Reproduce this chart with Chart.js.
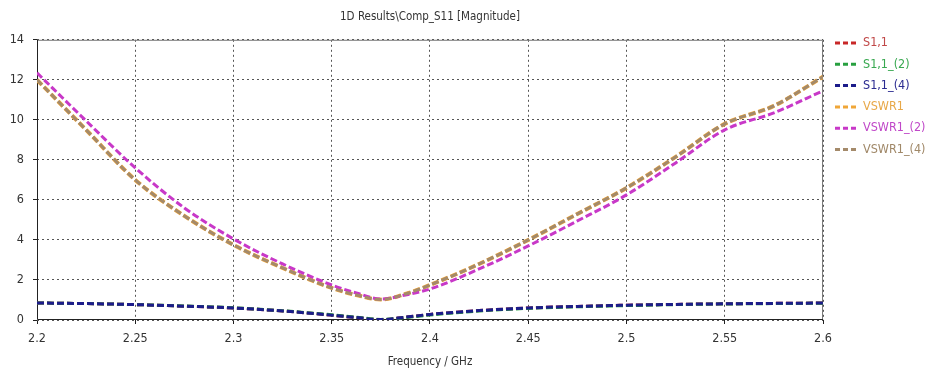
<!DOCTYPE html>
<html><head><meta charset="utf-8">
<script src="https://cdn.jsdelivr.net/npm/chart.js@4/dist/chart.umd.min.js"></script>
<style>html,body{margin:0;padding:0;background:#fff}#wrap{width:949px;height:372px;position:relative}</style>
</head><body><div id="wrap"><canvas id="c" width="949" height="372"></canvas></div>
<script>
// ---- data ----
const titleText = '1D Results\\Comp_S11 [Magnitude]';
const xAxisTitle = 'Frequency / GHz';
const frequencies = [2.2, 2.225, 2.25, 2.275, 2.3, 2.325, 2.35, 2.3625, 2.375, 2.3875, 2.4, 2.425, 2.45, 2.475, 2.5, 2.525, 2.55, 2.575, 2.6];
const s11_1   = [0.85, 0.82, 0.77, 0.69, 0.60, 0.45, 0.24, 0.12, 0.02, 0.14, 0.28, 0.47, 0.60, 0.68, 0.74, 0.78, 0.81, 0.83, 0.85];
const s11_2   = [0.85, 0.82, 0.77, 0.70, 0.61, 0.46, 0.26, 0.14, 0.03, 0.12, 0.25, 0.45, 0.58, 0.66, 0.72, 0.77, 0.80, 0.82, 0.84];
const s11_4   = [0.85, 0.82, 0.77, 0.69, 0.60, 0.45, 0.24, 0.12, 0.02, 0.14, 0.28, 0.47, 0.60, 0.68, 0.74, 0.78, 0.81, 0.83, 0.85];
const vswr1   = [12.0, 9.5, 7.0, 5.2, 3.75, 2.6, 1.6, 1.25, 1.02, 1.3, 1.75, 2.8, 4.0, 5.3, 6.6, 8.15, 9.8, 10.7, 12.15];
const vswr1_2 = [12.35, 9.95, 7.6, 5.6, 4.05, 2.8, 1.75, 1.35, 1.05, 1.25, 1.55, 2.55, 3.7, 4.95, 6.25, 7.85, 9.5, 10.35, 11.45];
const vswr1_4 = [12.0, 9.5, 7.0, 5.2, 3.75, 2.6, 1.6, 1.25, 1.02, 1.3, 1.75, 2.8, 4.0, 5.3, 6.6, 8.15, 9.8, 10.7, 12.15];
const seriesNames = ['S1,1', 'S1,1_(2)', 'S1,1_(4)', 'VSWR1', 'VSWR1_(2)', 'VSWR1_(4)'];
const xTickValues = [2.2, 2.25, 2.3, 2.35, 2.4, 2.45, 2.5, 2.55, 2.6];
const xTickLabels = ['2.2', '2.25', '2.3', '2.35', '2.4', '2.45', '2.5', '2.55', '2.6'];
const yTickValues = [0, 2, 4, 6, 8, 10, 12, 14];
const yTickLabels = ['0', '2', '4', '6', '8', '10', '12', '14'];

// ---- styles ----
const seriesColors = ['#c82828', '#28a040', '#1c1c8a', '#f0a638', '#c838c8', '#a48a6a'];
const legendTextColors = ['#c04848', '#38a850', '#2a2a90', '#e8a848', '#c048c8', '#a08868'];
const drawOrder = [4, 3, 0, 5, 2, 1];
const FONT = '"DejaVu Sans Condensed", "Liberation Sans Narrow", "Liberation Sans", sans-serif';

const allSeries = [s11_1, s11_2, s11_4, vswr1, vswr1_2, vswr1_4];
const datasets = allSeries.map((vals, i) => ({
  label: seriesNames[i],
  data: frequencies.map((f, k) => ({x: f, y: vals[k]})),
  borderColor: seriesColors[i],
  backgroundColor: seriesColors[i],
  borderWidth: i === 3 ? 4 : 3,
  borderDash: [7, 3],
  pointRadius: 0,
  cubicInterpolationMode: 'monotone',
  fill: false,
  order: drawOrder[i]
}));

const framePlugin = {
  id: 'frame',
  beforeDatasetsDraw(chart) {
    const {ctx, chartArea: a} = chart;
    ctx.save();
    ctx.setLineDash([]);
    ctx.lineWidth = 1;
    ctx.strokeStyle = '#7a7a7a';
    ctx.beginPath();
    ctx.moveTo(a.left, a.top + 0.5); ctx.lineTo(a.right - 0.5, a.top + 0.5); ctx.lineTo(a.right - 0.5, a.bottom);
    ctx.stroke();
    ctx.strokeStyle = '#222';
    ctx.beginPath();
    ctx.moveTo(a.left + 0.5, a.top); ctx.lineTo(a.left + 0.5, a.bottom - 0.5); ctx.lineTo(a.right, a.bottom - 0.5);
    ctx.stroke();
    ctx.restore();
  }
};

const legendPlugin = {
  id: 'sideLegend',
  afterDraw(chart) {
    const ctx = chart.ctx;
    chart.data.datasets.forEach((ds, i) => {
      const y = 43 + i * 21.3;
      ctx.save();
      ctx.strokeStyle = ds.borderColor;
      ctx.lineWidth = 3;
      ctx.setLineDash([5, 3]);
      ctx.beginPath(); ctx.moveTo(835, y); ctx.lineTo(858, y); ctx.stroke();
      ctx.setLineDash([]);
      ctx.fillStyle = legendTextColors[i];
      ctx.font = '12.5px ' + FONT;
      ctx.textBaseline = 'middle';
      ctx.fillText(ds.label, 863, y);
      ctx.restore();
    });
  }
};

new Chart(document.getElementById('c'), {
  type: 'line',
  data: {datasets},
  plugins: [framePlugin, legendPlugin],
  options: {
    responsive: false,
    animation: false,
    layout: {padding: {left: 0, right: 126, top: 0, bottom: 0}},
    plugins: {
      legend: {display: false},
      tooltip: {enabled: false},
      title: {
        display: true, text: titleText, fullSize: false,
        color: '#333', font: {family: FONT, size: 11.5, weight: 'normal'},
        padding: {top: 10, bottom: 16}
      }
    },
    scales: {
      x: {
        type: 'linear', min: 2.2, max: 2.6,
        afterBuildTicks: s => { s.ticks = xTickValues.map(v => ({value: v})); },
        afterFit: s => { s.height = 52; },
        ticks: {
          callback: (v, idx) => xTickLabels[idx],
          color: '#333', font: {family: FONT, size: 12.5}, padding: 7, maxRotation: 0, autoSkip: false
        },
        grid: {color: '#555', lineWidth: 1, drawTicks: true, tickLength: 4, tickColor: '#222'},
        border: {display: false, dash: [2, 3]},
        title: {display: true, text: xAxisTitle, color: '#333', font: {family: FONT, size: 11.5}, padding: {top: 0, bottom: 3}}
      },
      y: {
        type: 'linear', min: 0, max: 14,
        afterBuildTicks: s => { s.ticks = yTickValues.map(v => ({value: v})); },
        afterFit: s => { s.width = 37; },
        ticks: {
          callback: (v, idx) => yTickLabels[idx],
          color: '#333', font: {family: FONT, size: 12.5}, padding: 9
        },
        grid: {color: '#555', lineWidth: 1, drawTicks: true, tickLength: 4, tickColor: '#222'},
        border: {display: false, dash: [2, 3]}
      }
    }
  }
});
</script></body></html>
